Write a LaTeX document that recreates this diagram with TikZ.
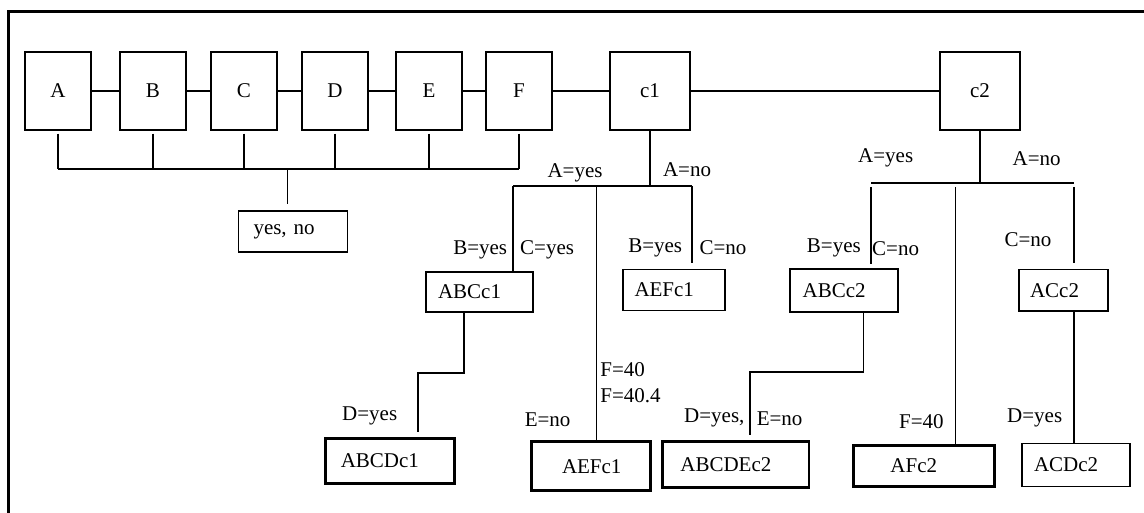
\documentclass[tikz,border=0pt]{standalone}
\usepackage{fontspec}
\setmainfont{Liberation Serif}
\usetikzlibrary{calc}

\tikzset{
  var/.style={draw, line width=1.4pt, minimum width=66pt, minimum height=78pt, inner sep=0pt},
  leaf/.style={draw, line width=1.3pt, align=left, inner ysep=0pt, inner xsep=12pt, minimum height=42pt},
  lbl/.style={inner sep=0pt},
  wire/.style={line width=1.5pt}
}

\begin{document}
\begin{tikzpicture}[x=1pt,y=-1pt,font=\fontsize{21}{25}\selectfont]
\useasboundingbox (0,0) rectangle (1144,513);
\draw[line width=3pt] (8.3,513) -- (8.3,11.2) -- (1144,11.2);
% attribute boxes and the two classes
\node[var] (A) at (58,91) {A};
\node[var] (B) at (153,91) {B};
\node[var] (C) at (244,91) {C};
\node[var] (D) at (335,91) {D};
\node[var] (E) at (429,91) {E};
\node[var] (F) at (519,91) {F};
\node[var,minimum width=80pt] (c1) at (650,91) {c1};
\node[var,minimum width=80pt] (c2) at (980,91) {c2};
\draw[wire] (A) -- (B) -- (C) -- (D) -- (E) -- (F) -- (c1) -- (c2);
% value domain
\node[leaf,inner xsep=15pt,text width=79pt,minimum height=41pt] (yesno) at (293,231.5) {yes, no};
\coordinate (bus) at (287.5,169);
\foreach \v in {A,B,C,D,E,F} \draw[wire] ([yshift=-3pt]\v.south) -- (\v.south |- bus);
\draw[wire] (A.south |- bus) -- (F.south |- bus);
\draw[wire] (bus) -- ([yshift=6pt]bus |- yesno.north);
% tree of c1
\node[leaf,text width=83pt,minimum height=40pt] (abcc1) at (479.5,292) {ABCc1};
\node[leaf,inner xsep=11.5pt,text width=79pt,minimum height=41pt] (aefc1) at (674,290) {AEFc1};
\node[leaf,line width=3pt,inner xsep=15pt,text width=99pt,minimum height=45pt] (abcdc1) at (390.3,460.8) {ABCDc1};
\node[leaf,line width=3pt,inner xsep=31pt,text width=57pt,minimum height=49pt] (aefc1b) at (590.5,466.2) {AEFc1};
\coordinate (l1) at (513,186);
\coordinate (m1) at (596.5,186);
\coordinate (r1) at (692,186);
\draw[wire] (c1) -- (c1.south |- l1);
\draw[wire] (l1) -- (r1);
\draw[wire] (l1) -- (l1 |- abcc1.north);
\draw[wire] (m1) -- (m1 |- aefc1b.north);
\draw[wire] (r1) -- ([yshift=6pt]r1 |- aefc1.north);
\coordinate (k1) at (464,373);
\coordinate (k2) at (418,373);
\draw[wire] (k1 |- abcc1.south) -- (k1) -- (k2) -- ([yshift=5pt]k2 |- abcdc1.north);
\node[lbl] (a1y) at (575,172.7) {A=yes};
\node[lbl,anchor=west] (a1n) at (662.8,170) {A=no};
\node[lbl,anchor=east] (b1y) at (507.3,250) {B=yes};
\node[lbl,anchor=west] (c1y) at (520,250) {C=yes};
\node[lbl,anchor=east] (b1yb) at (682.3,247.7) {B=yes};
\node[lbl,anchor=west] (c1n) at (699.3,248) {C=no};
\node[lbl,anchor=west] (d1y) at (342,415.7) {D=yes};
\node[lbl,anchor=west] (e1n) at (524.6,420) {E=no};
\node[lbl,anchor=west] (f1a) at (600.2,370) {F=40};
\node[lbl,anchor=west] (f1b) at (600.2,395.7) {F=40.4};
% tree of c2
\node[leaf,line width=2pt,inner xsep=12.6pt,text width=82.8pt,minimum height=43pt] (abcc2) at (844,290.8) {ABCc2};
\node[leaf,inner xsep=11pt,text width=67pt,minimum height=41.7pt] (acc2) at (1063.5,290.2) {ACc2};
\node[leaf,line width=2.5pt,inner xsep=18pt,text width=110.4pt,minimum height=45.6pt] (abcdec2) at (735.6,464.5) {ABCDEc2};
\node[leaf,line width=3pt,inner xsep=37pt,text width=67.5pt,minimum height=41pt] (afc2) at (924.2,465.5) {AFc2};
\node[leaf,inner xsep=12pt,text width=84pt,minimum height=43.4pt] (acdc2) at (1076,465) {ACDc2};
\coordinate (l2) at (871,183);
\coordinate (m2) at (955.5,183);
\coordinate (r2) at (1074,183);
\draw[wire] (c2) -- (c2.south |- l2);
\draw[wire] (l2) -- (r2);
\draw[wire] ([yshift=-4pt]l2) -- ([yshift=4pt]l2 |- abcc2.north);
\draw[wire] ([yshift=-4pt]m2) -- (m2 |- afc2.north);
\draw[wire] ([yshift=-4pt]r2) -- ([yshift=6pt]r2 |- acc2.north);
\coordinate (k3) at (863.5,372);
\coordinate (k4) at (750,372);
\draw[wire] (k3 |- abcc2.south) -- (k3) -- (k4) -- ([yshift=5pt]k4 |- abcdec2.north);
\draw[wire] (r2 |- acc2.south) -- (r2 |- acdc2.north);
\node[lbl,anchor=west] (a2y) at (858,158.3) {A=yes};
\node[lbl,anchor=west] (a2n) at (1012.5,158.3) {A=no};
\node[lbl,anchor=east] (b2y) at (861,248.3) {B=yes};
\node[lbl,anchor=west] (c2n) at (872,248.3) {C=no};
\node[lbl,anchor=west] (c2nb) at (1004.3,240) {C=no};
\node[lbl,anchor=west] (d2y) at (684,418.3) {D=yes,};
\node[lbl,anchor=west] (e2n) at (756.6,418.3) {E=no};
\node[lbl,anchor=west] (f2a) at (899,421.7) {F=40};
\node[lbl,anchor=west] (d2yb) at (1007,418.3) {D=yes};
\end{tikzpicture}
\end{document}
